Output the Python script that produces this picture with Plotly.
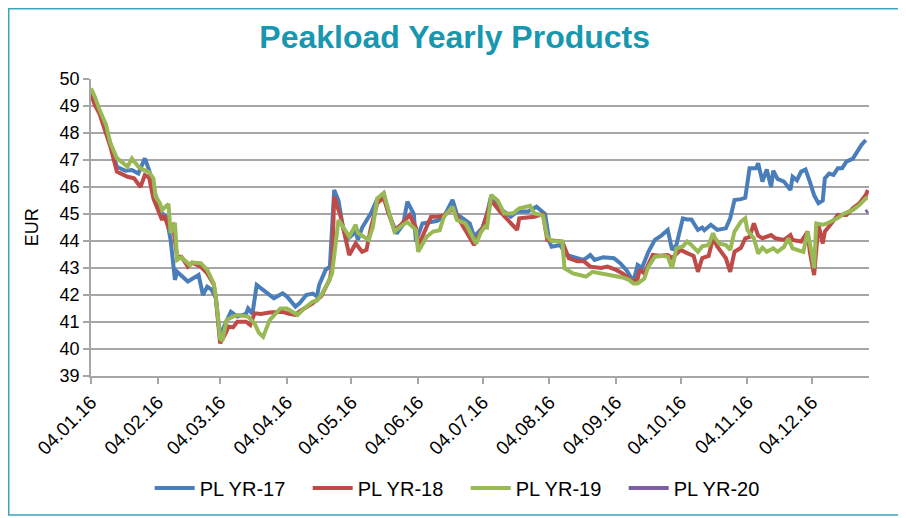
import plotly.graph_objects as go

# --- data (EUR) ---
yr17_dates = [
    "2016-01-04", "2016-01-08", "2016-01-13", "2016-01-16", "2016-01-20", "2016-01-23",
    "2016-01-26", "2016-01-29", "2016-01-31", "2016-02-03", "2016-02-06", "2016-02-08",
    "2016-02-10", "2016-02-12", "2016-02-13", "2016-02-18", "2016-02-23", "2016-02-25",
    "2016-02-27", "2016-02-29", "2016-03-02", "2016-03-04", "2016-03-05", "2016-03-09",
    "2016-03-12", "2016-03-16", "2016-03-17", "2016-03-19", "2016-03-21", "2016-03-24",
    "2016-03-29", "2016-04-02", "2016-04-04", "2016-04-08", "2016-04-10", "2016-04-13",
    "2016-04-16", "2016-04-18", "2016-04-19", "2016-04-22", "2016-04-24", "2016-04-26",
    "2016-04-28", "2016-04-30", "2016-05-02", "2016-05-06", "2016-05-07", "2016-05-09",
    "2016-05-13", "2016-05-16", "2016-05-19", "2016-05-21", "2016-05-25", "2016-05-28",
    "2016-05-30", "2016-06-02", "2016-06-03", "2016-06-06", "2016-06-09", "2016-06-13",
    "2016-06-16", "2016-06-20", "2016-06-22", "2016-06-28", "2016-06-30", "2016-07-04",
    "2016-07-06", "2016-07-08", "2016-07-12", "2016-07-17", "2016-07-20", "2016-07-25",
    "2016-07-29", "2016-08-02", "2016-08-04", "2016-08-05", "2016-08-09", "2016-08-12",
    "2016-08-17", "2016-08-20", "2016-08-23", "2016-08-25", "2016-08-29", "2016-09-03",
    "2016-09-06", "2016-09-09", "2016-09-12", "2016-09-14", "2016-09-16", "2016-09-19",
    "2016-09-22", "2016-09-25", "2016-09-28", "2016-09-30", "2016-10-02", "2016-10-05",
    "2016-10-07", "2016-10-09", "2016-10-12", "2016-10-14", "2016-10-15", "2016-10-18",
    "2016-10-21", "2016-10-25", "2016-10-27", "2016-10-29", "2016-11-01", "2016-11-03",
    "2016-11-05", "2016-11-08", "2016-11-09", "2016-11-11", "2016-11-13", "2016-11-15",
    "2016-11-16", "2016-11-18", "2016-11-21", "2016-11-24", "2016-11-25", "2016-11-27",
    "2016-11-29", "2016-12-01", "2016-12-03", "2016-12-05", "2016-12-07", "2016-12-09",
    "2016-12-10", "2016-12-12", "2016-12-14", "2016-12-16", "2016-12-18", "2016-12-20",
    "2016-12-23", "2016-12-25", "2016-12-27", "2016-12-29",
]
yr17_values = [
    49.5, 48.8, 47.6, 46.75, 46.6, 46.63,
    46.5, 47.06, 46.63, 45.7, 45.02, 44.9,
    44.04, 42.56, 42.86, 42.5, 42.74, 42.0,
    42.31, 42.2, 41.9, 40.4, 40.7, 41.38,
    41.2, 41.3, 41.5, 41.3, 42.37, 42.19,
    41.88, 42.06, 41.95, 41.57, 41.7, 42.0,
    42.05, 41.95, 42.37, 42.93, 43.05, 45.89,
    45.5, 44.53, 44.04, 44.35, 44.04, 44.5,
    45.02, 45.55, 45.77, 45.1, 44.28, 44.6,
    45.46, 45.0, 43.98, 44.65, 44.7, 44.75,
    44.9, 45.52, 45.0, 44.65, 44.16, 44.5,
    45.0, 45.7, 45.21, 44.9, 45.09, 45.09,
    45.27, 45.0, 43.98, 43.79, 43.85, 43.48,
    43.36, 43.3, 43.48, 43.3, 43.4, 43.36,
    43.17, 42.9, 42.5, 43.11, 43.0, 43.6,
    44.04, 44.2, 44.41, 43.67, 43.85, 44.84,
    44.8, 44.8, 44.41, 44.5, 44.4, 44.6,
    44.41, 44.47, 44.84, 45.52, 45.55, 45.6,
    46.69, 46.69, 46.88, 46.2, 46.65, 46.0,
    46.6, 46.3, 46.2, 45.89, 46.38, 46.25,
    46.57, 46.65, 46.2, 45.7, 45.4, 45.5,
    46.32, 46.5, 46.45, 46.69, 46.69, 46.94,
    47.05, 47.31, 47.56, 47.74,
]

yr18_dates = [
    "2016-01-04", "2016-01-06", "2016-01-08", "2016-01-13", "2016-01-16", "2016-01-18",
    "2016-01-21", "2016-01-24", "2016-01-27", "2016-01-29", "2016-01-31", "2016-02-02",
    "2016-02-06", "2016-02-07", "2016-02-09", "2016-02-11", "2016-02-13", "2016-02-15",
    "2016-02-18", "2016-02-20", "2016-02-24", "2016-02-27", "2016-03-01", "2016-03-02",
    "2016-03-04", "2016-03-06", "2016-03-08", "2016-03-10", "2016-03-12", "2016-03-16",
    "2016-03-18", "2016-03-20", "2016-03-23", "2016-03-27", "2016-04-02", "2016-04-05",
    "2016-04-08", "2016-04-10", "2016-04-12", "2016-04-16", "2016-04-20", "2016-04-24",
    "2016-04-25", "2016-04-26", "2016-04-29", "2016-05-02", "2016-05-03", "2016-05-06",
    "2016-05-09", "2016-05-11", "2016-05-13", "2016-05-16", "2016-05-19", "2016-05-21",
    "2016-05-24", "2016-05-27", "2016-05-31", "2016-06-03", "2016-06-04", "2016-06-07",
    "2016-06-10", "2016-06-13", "2016-06-16", "2016-06-20", "2016-06-23", "2016-06-27",
    "2016-06-30", "2016-07-04", "2016-07-06", "2016-07-08", "2016-07-12", "2016-07-17",
    "2016-07-20", "2016-07-21", "2016-07-26", "2016-07-28", "2016-08-01", "2016-08-03",
    "2016-08-10", "2016-08-13", "2016-08-17", "2016-08-20", "2016-08-23", "2016-08-28",
    "2016-08-31", "2016-09-04", "2016-09-07", "2016-09-12", "2016-09-14", "2016-09-15",
    "2016-09-17", "2016-09-21", "2016-09-24", "2016-09-28", "2016-09-30", "2016-10-04",
    "2016-10-07", "2016-10-10", "2016-10-12", "2016-10-14", "2016-10-17", "2016-10-19",
    "2016-10-21", "2016-10-25", "2016-10-27", "2016-10-29", "2016-11-01", "2016-11-03",
    "2016-11-05", "2016-11-07", "2016-11-09", "2016-11-11", "2016-11-15", "2016-11-17",
    "2016-11-21", "2016-11-24", "2016-11-25", "2016-11-29", "2016-12-02", "2016-12-03",
    "2016-12-05", "2016-12-07", "2016-12-09", "2016-12-10", "2016-12-13", "2016-12-16",
    "2016-12-20", "2016-12-23", "2016-12-26", "2016-12-29", "2016-12-30",
]
yr18_values = [
    49.4, 49.0, 48.7, 47.5, 46.57, 46.5,
    46.38, 46.32, 46.0, 46.44, 46.35, 45.58,
    44.78, 44.95, 44.5, 44.6, 43.42, 43.42,
    43.05, 43.2, 43.05, 42.8, 42.4, 41.9,
    40.21, 40.5, 40.83, 40.8, 41.01, 41.01,
    40.89, 41.32, 41.3, 41.35, 41.38, 41.3,
    41.26, 41.4, 41.5, 41.69, 41.95, 42.6,
    43.05, 45.64, 44.9, 43.73, 43.48, 43.91,
    43.6, 43.67, 44.47, 45.4, 45.6, 45.09,
    44.4, 44.6, 44.96, 44.5, 43.79, 44.35,
    44.9, 44.9, 44.95, 45.2, 44.8, 44.3,
    43.85, 44.5, 44.95, 45.5, 45.09, 44.65,
    44.41, 44.84, 44.9, 44.9, 45.0, 44.04,
    43.98, 43.36, 43.25, 43.25, 43.05, 43.0,
    43.05, 42.93, 42.8, 42.5, 42.6, 42.95,
    42.8, 43.48, 43.45, 43.48, 43.37, 43.67,
    43.55, 43.45, 42.86, 43.37, 43.45, 44.1,
    43.8, 43.36, 42.86, 43.6, 43.75, 44.1,
    44.15, 44.65, 44.2, 44.1, 44.22, 44.1,
    44.04, 44.22, 44.04, 43.98, 44.35, 43.6,
    42.74, 44.6, 43.91, 44.35, 44.65, 44.96,
    44.96, 45.21, 45.4, 45.7, 45.89,
]

yr19_dates = [
    "2016-01-04", "2016-01-06", "2016-01-08", "2016-01-11", "2016-01-13", "2016-01-16",
    "2016-01-18", "2016-01-21", "2016-01-23", "2016-01-26", "2016-01-28", "2016-01-30",
    "2016-01-31", "2016-02-02", "2016-02-03", "2016-02-05", "2016-02-06", "2016-02-09",
    "2016-02-10", "2016-02-12", "2016-02-13", "2016-02-15", "2016-02-17", "2016-02-19",
    "2016-02-20", "2016-02-24", "2016-02-27", "2016-03-01", "2016-03-02", "2016-03-04",
    "2016-03-05", "2016-03-07", "2016-03-10", "2016-03-12", "2016-03-17", "2016-03-20",
    "2016-03-22", "2016-03-24", "2016-03-27", "2016-04-01", "2016-04-04", "2016-04-09",
    "2016-04-12", "2016-04-16", "2016-04-18", "2016-04-20", "2016-04-23", "2016-04-25",
    "2016-04-28", "2016-04-30", "2016-05-02", "2016-05-03", "2016-05-06", "2016-05-07",
    "2016-05-12", "2016-05-14", "2016-05-16", "2016-05-19", "2016-05-21", "2016-05-24",
    "2016-05-28", "2016-05-30", "2016-06-03", "2016-06-04", "2016-06-08", "2016-06-11",
    "2016-06-14", "2016-06-16", "2016-06-20", "2016-06-22", "2016-06-26", "2016-06-29",
    "2016-07-01", "2016-07-03", "2016-07-05", "2016-07-06", "2016-07-08", "2016-07-11",
    "2016-07-14", "2016-07-18", "2016-07-21", "2016-07-26", "2016-07-28", "2016-08-01",
    "2016-08-03", "2016-08-05", "2016-08-10", "2016-08-11", "2016-08-15", "2016-08-18",
    "2016-08-21", "2016-08-24", "2016-08-28", "2016-09-03", "2016-09-07", "2016-09-10",
    "2016-09-12", "2016-09-14", "2016-09-17", "2016-09-19", "2016-09-22", "2016-09-26",
    "2016-09-28", "2016-09-30", "2016-10-02", "2016-10-05", "2016-10-07", "2016-10-09",
    "2016-10-12", "2016-10-14", "2016-10-17", "2016-10-19", "2016-10-20", "2016-10-22",
    "2016-10-25", "2016-10-27", "2016-10-29", "2016-11-01", "2016-11-03", "2016-11-04",
    "2016-11-07", "2016-11-09", "2016-11-11", "2016-11-13", "2016-11-16", "2016-11-18",
    "2016-11-21", "2016-11-23", "2016-11-25", "2016-11-30", "2016-12-02", "2016-12-04",
    "2016-12-05", "2016-12-06", "2016-12-09", "2016-12-11", "2016-12-13", "2016-12-16",
    "2016-12-19", "2016-12-23", "2016-12-26", "2016-12-29", "2016-12-30",
]
yr19_values = [
    49.65, 49.3, 48.85, 48.3, 47.63, 47.07,
    46.95, 46.75, 47.06, 46.75, 46.65, 46.6,
    46.55, 46.32, 45.64, 45.4, 45.15, 45.37,
    44.3, 44.67, 43.3, 43.4, 43.23, 43.1,
    43.2, 43.18, 42.93, 42.43, 41.94, 40.4,
    40.3, 41.07, 41.2, 41.26, 41.2, 40.95,
    40.6, 40.45, 41.07, 41.5, 41.5, 41.26,
    41.5, 41.75, 41.8, 42.0, 42.43, 42.8,
    44.78, 44.53, 44.22, 44.16, 44.6, 44.3,
    44.04, 44.53, 45.58, 45.77, 45.21, 44.35,
    44.6, 44.7, 44.41, 43.6, 44.16, 44.35,
    44.4, 44.9, 45.27, 44.78, 44.65, 44.22,
    43.9, 44.3, 44.53, 44.5, 45.7, 45.5,
    45.02, 45.02, 45.21, 45.3, 45.02, 44.95,
    44.16, 44.0, 43.98, 42.99, 42.8, 42.74,
    42.68, 42.86, 42.8, 42.74, 42.65, 42.56,
    42.43, 42.43, 42.6, 43.05, 43.42, 43.45,
    43.42, 42.99, 43.73, 43.8, 43.98, 43.85,
    43.6, 43.8, 43.85, 44.29, 44.1, 43.9,
    43.85, 43.67, 44.35, 44.72, 44.84, 44.4,
    44.1, 43.54, 43.75, 43.6, 43.73, 43.6,
    43.78, 44.1, 43.73, 43.6, 44.35, 43.5,
    42.99, 44.65, 44.6, 44.65, 44.72, 44.85,
    45.02, 45.15, 45.33, 45.58, 45.58,
]

yr20_dates = ["2016-12-29", "2016-12-30"]
yr20_values = [45.07, 45.12]

tick_dates = [
    "2016-01-04", "2016-02-04", "2016-03-04", "2016-04-04", "2016-05-04", "2016-06-04",
    "2016-07-04", "2016-08-04", "2016-09-04", "2016-10-04", "2016-11-04", "2016-12-04",
]
tick_labels = [
    "04.01.16", "04.02.16", "04.03.16", "04.04.16", "04.05.16", "04.06.16",
    "04.07.16", "04.08.16", "04.09.16", "04.10.16", "04.11.16", "04.12.16",
]

FONT = "Liberation Sans, Arial, sans-serif"
GRID = "#a6a6a6"

fig = go.Figure()
series = [
    ("PL YR-17", yr17_dates, yr17_values, "#4a7ebb"),
    ("PL YR-18", yr18_dates, yr18_values, "#be4b48"),
    ("PL YR-19", yr19_dates, yr19_values, "#98b954"),
    ("PL YR-20", yr20_dates, yr20_values, "#7d60a0"),
]
for name, xs, ys, color in series:
    fig.add_trace(go.Scatter(x=xs, y=ys, name=name, mode="lines",
                             line=dict(color=color, width=4)))

# the page adds an 8px body margin, so the figure is laid out 8px up/left
fig.update_layout(
    width=906, height=518,
    margin=dict(l=83, r=45, t=71, b=150, autoexpand=False),
    paper_bgcolor="white", plot_bgcolor="white",
    font=dict(family=FONT, size=18, color="black"),
    title=dict(text="<b>Peakload Yearly Products</b>", x=0.493, xref="container",
               xanchor="center", y=1 - 29 / 518, yanchor="middle",
               font=dict(family=FONT, size=32, color="#1797b0")),
    showlegend=True,
    legend=dict(orientation="h", x=0.4816, xanchor="center", y=-0.377, yanchor="middle",
                font=dict(size=20), entrywidth=103, entrywidthmode="pixels",
                traceorder="normal", itemwidth=40),
)
fig.update_xaxes(
    type="date", range=["2016-01-04", "2016-12-30 12:00"], automargin=False,
    tickvals=tick_dates, ticktext=tick_labels, tickangle=-45,
    showgrid=False, showline=True, linecolor=GRID, linewidth=1.5,
    ticks="outside", ticklen=6, tickcolor=GRID, tickwidth=1.5,
    tickfont=dict(size=19), zeroline=False,
)
fig.update_yaxes(
    range=[39, 50], dtick=1, tick0=39, automargin=False,
    showgrid=True, gridcolor=GRID, gridwidth=1.5,
    showline=True, linecolor=GRID, linewidth=1.5,
    ticks="outside", ticklen=6, tickcolor=GRID, tickwidth=1.5,
    tickfont=dict(size=18), zeroline=False,
)
fig.add_annotation(text="EUR", xref="paper", yref="paper", x=-0.076, y=0.5,
                   textangle=-90, showarrow=False, font=dict(size=18),
                   xanchor="center", yanchor="middle")
# outer chart frame
fig.add_shape(type="rect", xref="paper", yref="paper",
              x0=-0.1057, x1=1.0437, y0=-0.468, y1=1.2365,
              line=dict(color="#3aa5bd", width=1.5), layer="below")

fig.write_html("out.html")
